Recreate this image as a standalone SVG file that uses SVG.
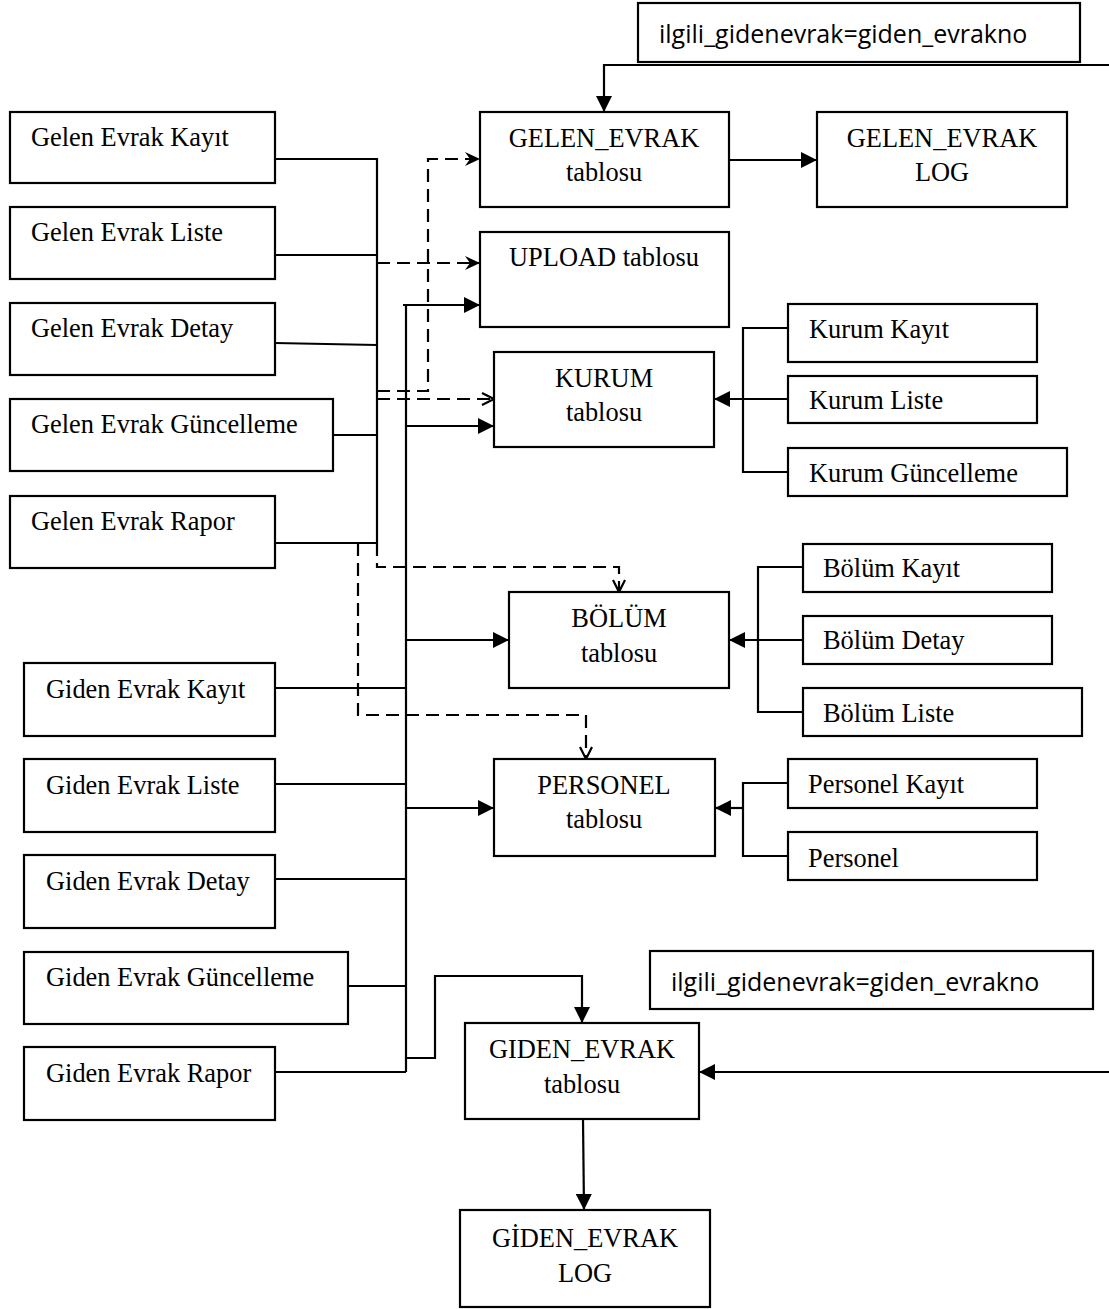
<svg xmlns="http://www.w3.org/2000/svg" width="1109" height="1309" viewBox="0 0 1109 1309">
  <style>
    .box { fill: #fff; stroke: #000; stroke-width: 2.2; }
    .t { font-family: "Liberation Serif", "Times New Roman", serif; font-size: 26.4px; fill: #000; }
    .c { text-anchor: middle; }
    .s { font-family: "Open Sans", "Liberation Sans", sans-serif; font-size: 25px; fill: #000; }
    .ln { fill: none; stroke: #000; stroke-width: 2.2; }
    .dl { fill: none; stroke: #000; stroke-width: 2.2; stroke-dasharray: 13 7; }
  </style>
  <defs>
    <marker id="arr" markerUnits="userSpaceOnUse" markerWidth="17" markerHeight="16" refX="16" refY="8" orient="auto">
      <path d="M0,0 L16,8 L0,16 Z" fill="#000"/>
    </marker>
    <marker id="st" markerUnits="userSpaceOnUse" markerWidth="16" markerHeight="15" refX="15" refY="7" orient="auto">
      <path d="M0,0 L15,7 L0,14 L5,7 Z" fill="#000"/>
    </marker>
    <marker id="vee" markerUnits="userSpaceOnUse" markerWidth="15" markerHeight="15" refX="13" refY="7" orient="auto">
      <path d="M1,1 L13,7 L1,13" fill="none" stroke="#000" stroke-width="2.2"/>
    </marker>
  </defs>

  <!-- connectors -->
  <g id="connectors">
    <!-- Gelen Evrak screens to first trunk -->
    <path class="ln" d="M275,159 H377 V543"/>
    <path class="ln" d="M275,255 H377"/>
    <path class="ln" d="M275,343 L377,345"/>
    <path class="ln" d="M333,435 H377"/>
    <path class="ln" d="M275,543 H377"/>
    <!-- dashed reads from Gelen Evrak trunk -->
    <path class="dl" d="M377,391 H428 V159 H480" marker-end="url(#st)"/>
    <path class="dl" d="M377,263 H480" marker-end="url(#st)"/>
    <path class="dl" d="M377,399 H494" marker-end="url(#vee)"/>
    <path class="dl" d="M377,543 V567 H619 V592" marker-end="url(#vee)"/>
    <path class="dl" d="M358,543 V715 H586 V759" marker-end="url(#vee)"/>
    <!-- Giden Evrak trunk -->
    <path class="ln" d="M403,305 H480" marker-end="url(#arr)"/>
    <path class="ln" d="M406,305 V1072"/>
    <path class="ln" d="M406,426 H494" marker-end="url(#arr)"/>
    <path class="ln" d="M406,640 H509" marker-end="url(#arr)"/>
    <path class="ln" d="M406,808 H494" marker-end="url(#arr)"/>
    <path class="ln" d="M275,688 H406"/>
    <path class="ln" d="M275,784 H406"/>
    <path class="ln" d="M275,879 H406"/>
    <path class="ln" d="M348,986 H406"/>
    <path class="ln" d="M275,1072 H406"/>
    <path class="ln" d="M406,1058 H435 V976 H582 V1023" marker-end="url(#arr)"/>
    <!-- log links -->
    <path class="ln" d="M729,160 H817" marker-end="url(#arr)"/>
    <path class="ln" d="M583,1119 L584,1210" marker-end="url(#arr)"/>
    <!-- ilgili_gidenevrak links -->
    <path class="ln" d="M1109,65 H604 V112" marker-end="url(#arr)"/>
    <path class="ln" d="M1109,1072 H699" marker-end="url(#arr)"/>
    <!-- Kurum screens -->
    <path class="ln" d="M788,328 H743 V472 H788"/>
    <path class="ln" d="M788,399 H714" marker-end="url(#arr)"/>
    <!-- Bölüm screens -->
    <path class="ln" d="M803,567 H758 V712 H803"/>
    <path class="ln" d="M803,640 H729" marker-end="url(#arr)"/>
    <!-- Personel screens -->
    <path class="ln" d="M788,783 H743 V856 H788"/>
    <path class="ln" d="M743,808 H715" marker-end="url(#arr)"/>
  </g>

  <!-- Gelen Evrak screens -->
  <g id="gelen-kayit"><rect class="box" x="10" y="112" width="265" height="71"/><text class="t" x="31" y="146">Gelen Evrak Kayıt</text></g>
  <g id="gelen-liste"><rect class="box" x="10" y="207" width="265" height="72"/><text class="t" x="31" y="241">Gelen Evrak Liste</text></g>
  <g id="gelen-detay"><rect class="box" x="10" y="303" width="265" height="72"/><text class="t" x="31" y="337">Gelen Evrak Detay</text></g>
  <g id="gelen-guncelleme"><rect class="box" x="10" y="399" width="323" height="72"/><text class="t" x="31" y="433">Gelen Evrak Güncelleme</text></g>
  <g id="gelen-rapor"><rect class="box" x="10" y="496" width="265" height="72"/><text class="t" x="31" y="530">Gelen Evrak Rapor</text></g>

  <!-- Giden Evrak screens -->
  <g id="giden-kayit"><rect class="box" x="24" y="663" width="251" height="73"/><text class="t" x="46" y="698">Giden Evrak Kayıt</text></g>
  <g id="giden-liste"><rect class="box" x="24" y="759" width="251" height="73"/><text class="t" x="46" y="794">Giden Evrak Liste</text></g>
  <g id="giden-detay"><rect class="box" x="24" y="855" width="251" height="73"/><text class="t" x="46" y="890">Giden Evrak Detay</text></g>
  <g id="giden-guncelleme"><rect class="box" x="24" y="952" width="324" height="72"/><text class="t" x="46" y="986">Giden Evrak Güncelleme</text></g>
  <g id="giden-rapor"><rect class="box" x="24" y="1047" width="251" height="73"/><text class="t" x="46" y="1082">Giden Evrak Rapor</text></g>

  <!-- tables -->
  <g id="gelen-evrak"><rect class="box" x="480" y="112" width="249" height="95"/><text class="t c" x="604" y="147">GELEN_EVRAK</text><text class="t c" x="604" y="181">tablosu</text></g>
  <g id="gelen-evrak-log"><rect class="box" x="817" y="112" width="250" height="95"/><text class="t c" x="942" y="147">GELEN_EVRAK</text><text class="t c" x="942" y="181">LOG</text></g>
  <g id="upload"><rect class="box" x="480" y="232" width="249" height="95"/><text class="t c" x="604" y="266">UPLOAD tablosu</text></g>
  <g id="kurum"><rect class="box" x="494" y="352" width="220" height="95"/><text class="t c" x="604" y="387">KURUM</text><text class="t c" x="604" y="421">tablosu</text></g>
  <g id="bolum"><rect class="box" x="509" y="592" width="220" height="96"/><text class="t c" x="619" y="627">BÖLÜM</text><text class="t c" x="619" y="662">tablosu</text></g>
  <g id="personel"><rect class="box" x="494" y="759" width="221" height="97"/><text class="t c" x="604" y="794">PERSONEL</text><text class="t c" x="604" y="828">tablosu</text></g>
  <g id="giden-evrak"><rect class="box" x="465" y="1023" width="234" height="96"/><text class="t c" x="582" y="1058">GIDEN_EVRAK</text><text class="t c" x="582" y="1093">tablosu</text></g>
  <g id="giden-evrak-log"><rect class="box" x="460" y="1210" width="250" height="97"/><text class="t c" x="585" y="1247">GİDEN_EVRAK</text><text class="t c" x="585" y="1282">LOG</text></g>

  <!-- Kurum screens -->
  <g id="kurum-kayit"><rect class="box" x="788" y="304" width="249" height="58"/><text class="t" x="809" y="338">Kurum Kayıt</text></g>
  <g id="kurum-liste"><rect class="box" x="788" y="376" width="249" height="47"/><text class="t" x="809" y="409">Kurum Liste</text></g>
  <g id="kurum-guncelleme"><rect class="box" x="788" y="448" width="279" height="48"/><text class="t" x="809" y="482">Kurum Güncelleme</text></g>

  <!-- Bölüm screens -->
  <g id="bolum-kayit"><rect class="box" x="803" y="544" width="249" height="48"/><text class="t" x="823" y="577">Bölüm Kayıt</text></g>
  <g id="bolum-detay"><rect class="box" x="803" y="616" width="249" height="48"/><text class="t" x="823" y="649">Bölüm Detay</text></g>
  <g id="bolum-liste"><rect class="box" x="803" y="688" width="279" height="48"/><text class="t" x="823" y="722">Bölüm Liste</text></g>

  <!-- Personel screens -->
  <g id="personel-kayit"><rect class="box" x="788" y="759" width="249" height="49"/><text class="t" x="808" y="793">Personel Kayıt</text></g>
  <g id="personel-ekran"><rect class="box" x="788" y="832" width="249" height="48"/><text class="t" x="808" y="867">Personel</text></g>

  <!-- relation notes -->
  <g id="iliski-ust"><rect class="box" x="638" y="3" width="442" height="59"/><text class="s" x="659" y="43">ilgili_gidenevrak=giden_evrakno</text></g>
  <g id="iliski-alt"><rect class="box" x="650" y="951" width="443" height="58"/><text class="s" x="671" y="991">ilgili_gidenevrak=giden_evrakno</text></g>
</svg>
